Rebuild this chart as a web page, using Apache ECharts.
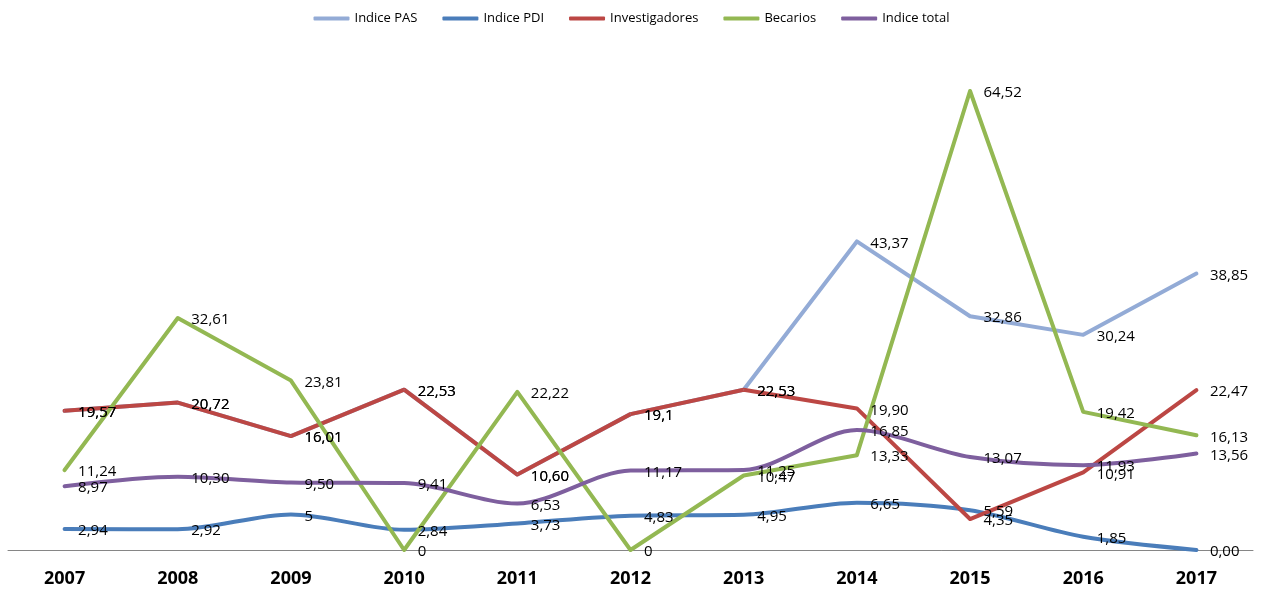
<!DOCTYPE html>
<html>
<head>
  <meta charset="utf-8">
  <title>Indices 2007-2017</title>
  <script src="https://cdn.jsdelivr.net/npm/echarts@6/dist/echarts.min.js"></script>
  <style>
    html, body { margin: 0; padding: 0; background: #fff; }
    #main { width: 1263px; height: 592px; }
  </style>
</head>
<body>
  <div id="main"></div>
  <script>
    // data
    var years = ['2007', '2008', '2009', '2010', '2011', '2012', '2013', '2014', '2015', '2016', '2017'];

    var pas = [19.57, 20.72, 16.01, 22.53, 10.60, 19.1, 22.53, 43.37, 32.86, 30.24, 38.85];
    var pasLabels = ['19,57', '20,72', '16,01', '22,53', '10,60', '19,1', '22,53', '43,37', '32,86', '30,24', '38,85'];

    var pdi = [2.94, 2.92, 5, 2.84, 3.73, 4.83, 4.95, 6.65, 5.59, 1.85, 0];
    var pdiLabels = ['2,94', '2,92', '5', '2,84', '3,73', '4,83', '4,95', '6,65', '5,59', '1,85', '0,00'];

    var investigadores = [19.57, 20.72, 16.01, 22.53, 10.60, 19.1, 22.53, 19.90, 4.35, 10.91, 22.47];
    var invLabels = ['19,57', '20,72', '16,01', '22,53', '10,60', '19,1', '22,53', '19,90', '4,35', '10,91', '22,47'];

    var becarios = [11.24, 32.61, 23.81, 0, 22.22, 0, 10.47, 13.33, 64.52, 19.42, 16.13];
    var becLabels = ['11,24', '32,61', '23,81', '0', '22,22', '0', '10,47', '13,33', '64,52', '19,42', '16,13'];

    var total = [8.97, 10.30, 9.50, 9.41, 6.53, 11.17, 11.25, 16.85, 13.07, 11.93, 13.56];
    var totalLabels = ['8,97', '10,30', '9,50', '9,41', '6,53', '11,17', '11,25', '16,85', '13,07', '11,93', '13,56'];

    var myChart = echarts.init(document.getElementById('main'));

    function makeLine(name, values, labels, color, smooth) {
      return {
        name: name,
        type: 'line',
        data: values,
        smooth: smooth,
        symbol: 'circle',
        symbolSize: 1,
        showSymbol: true,
        itemStyle: { color: color },
        lineStyle: { width: 4, color: color, cap: 'round', join: 'round' },
        label: {
          show: true,
          position: 'right',
          distance: 13,
          offset: [0, 2],
          color: '#000',
          fontFamily: 'Open Sans',
          fontSize: 15,
          formatter: function (p) { return labels[p.dataIndex]; }
        },
        emphasis: { disabled: true }
      };
    }

    var option = {
      animation: false,
      legend: {
        top: 7,
        left: 'center',
        icon: 'roundRect',
        itemWidth: 36,
        itemHeight: 4,
        itemGap: 25,
        textStyle: { fontFamily: 'Open Sans', fontSize: 13, color: '#000' },
        data: ['Indice PAS', 'Indice PDI', 'Investigadores', 'Becarios', 'Indice total']
      },
      grid: { left: 8, right: 10, top: 52, bottom: 42 },
      xAxis: {
        type: 'category',
        data: years,
        boundaryGap: true,
        axisLine: { lineStyle: { color: '#868686', width: 1 } },
        axisTick: { show: false },
        axisLabel: {
          margin: 20,
          color: '#000',
          fontFamily: 'Open Sans',
          fontWeight: 'bold',
          fontSize: 18
        }
      },
      yAxis: {
        type: 'value',
        min: 0,
        max: 70,
        show: false
      },
      series: [
        makeLine('Indice PAS', pas, pasLabels, '#93ABD6', false),
        makeLine('Indice PDI', pdi, pdiLabels, '#4A7DBA', 0.3),
        makeLine('Investigadores', investigadores, invLabels, '#BC4744', false),
        makeLine('Becarios', becarios, becLabels, '#93B852', false),
        makeLine('Indice total', total, totalLabels, '#7E5F9E', 0.3)
      ]
    };

    myChart.setOption(option);
  </script>
</body>
</html>
